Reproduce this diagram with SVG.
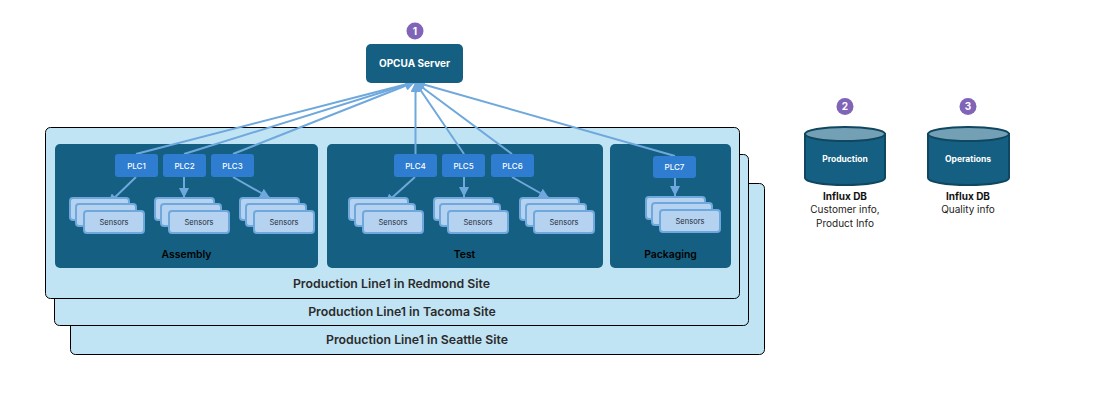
<svg xmlns="http://www.w3.org/2000/svg" width="1111" height="403" viewBox="0 0 1111 403">
<style>
text{font-family:"Inter","Noto Sans","Liberation Sans",sans-serif;text-anchor:middle}
.site{fill:#c1e4f5;stroke:#000;stroke-width:1}
.sitel{font-size:12.3px;font-weight:600;fill:#2b2b2b}
.panel{fill:#156082}
.panell{font-size:10.4px;font-weight:600;fill:#000}
.plc{fill:#2e7dd1}
.plcl{font-size:8px;font-weight:500;fill:#fff}
.sen{fill:#b5d2f0;stroke:#6fa8dc;stroke-width:2}
.senl{font-size:7.5px;fill:#1f2a36}
.badge{fill:#8064b8}
.badgel{font-size:10px;font-weight:700;fill:#fff}
.conn{stroke:#6fa8dc;stroke-width:2;fill:none}
.up{marker-end:url(#a)}
.dbb{fill:#156082;stroke:#0f4761;stroke-width:2}
.dbt{fill:#73a0b4;stroke:#0f4761;stroke-width:2}
.dbl{font-size:8.5px;font-weight:700;fill:#fff}
.cap{font-size:10px;fill:#222}
.capb{font-size:10px;font-weight:700;fill:#111}
</style>
<defs>
<marker id="a" markerUnits="userSpaceOnUse" markerWidth="11" markerHeight="10" refX="10" refY="5" orient="auto"><path d="M0 0L10 5L0 10z" fill="#6fa8dc"/></marker>
<g id="stack">
<rect class="sen" x="0" y="0" width="59" height="22" rx="3"/>
<rect class="sen" x="6" y="6" width="60" height="22" rx="3"/>
<rect class="sen" x="14" y="13" width="60" height="22" rx="3"/>
<text class="senl" x="44" y="27">Sensors</text>
</g>
</defs>
<g id="site-seattle"><rect class="site" x="70.5" y="183.5" width="694" height="171" rx="5"/><text class="sitel" x="417" y="344">Production Line1 in Seattle Site</text></g>
<g id="site-tacoma"><rect class="site" x="54.5" y="154.5" width="694" height="171" rx="5"/><text class="sitel" x="402" y="316">Production Line1 in Tacoma Site</text></g>
<g id="site-redmond"><rect class="site" x="45.5" y="127.5" width="694" height="171" rx="5"/><text class="sitel" x="391.500" y="288">Production Line1 in Redmond Site</text></g>
<g id="assembly"><rect class="panel" x="55" y="144" width="263" height="124" rx="5"/><text class="panell" x="186.500" y="258">Assembly</text></g>
<g id="test"><rect class="panel" x="327" y="144" width="276" height="124" rx="5"/><text class="panell" x="464.500" y="258">Test</text></g>
<g id="packaging"><rect class="panel" x="610" y="144" width="121" height="124" rx="5"/><text class="panell" x="670.500" y="258">Packaging</text></g>
<g id="connectors">
<path class="conn up" d="M136 154L415 82"/>
<path class="conn up" d="M184 154L415 82"/>
<path class="conn up" d="M233 154L415 82"/>
<path class="conn up" d="M415.500 154V82"/>
<path class="conn up" d="M464 154L415 82"/>
<path class="conn up" d="M512 154L415 82"/>
<path class="conn up" d="M675 156L415 82"/>
<path class="conn up" d="M136 177L108 204"/>
<path class="conn up" d="M184 177V198"/>
<path class="conn up" d="M233 177L270 198"/>
<path class="conn up" d="M415 177L385 204"/>
<path class="conn up" d="M464 177V197"/>
<path class="conn up" d="M512 177L549 198"/>
<path class="conn up" d="M675 178V196"/>
</g>
<g id="opcua"><rect class="panel" x="366" y="44" width="97" height="39" rx="5"/><text x="414.500" y="67" style="font-size:10px;font-weight:700;fill:#fff">OPCUA Server</text></g>
<g id="badge1"><circle class="badge" cx="415" cy="31" r="8.500"/><text class="badgel" x="415" y="34.500">1</text></g>
<g id="plc1"><rect class="plc" x="115" y="154" width="43" height="23" rx="3"/><text class="plcl" x="136.500" y="169">PLC1</text></g>
<g id="plc2"><rect class="plc" x="163" y="154" width="43" height="23" rx="3"/><text class="plcl" x="184.500" y="169">PLC2</text></g>
<g id="plc3"><rect class="plc" x="211" y="154" width="43" height="23" rx="3"/><text class="plcl" x="232.500" y="169">PLC3</text></g>
<g id="plc4"><rect class="plc" x="394" y="154" width="43" height="23" rx="3"/><text class="plcl" x="415.500" y="169">PLC4</text></g>
<g id="plc5"><rect class="plc" x="442" y="154" width="43" height="23" rx="3"/><text class="plcl" x="463.500" y="169">PLC5</text></g>
<g id="plc6"><rect class="plc" x="491" y="154" width="43" height="23" rx="3"/><text class="plcl" x="512.500" y="169">PLC6</text></g>
<g id="plc7"><rect class="plc" x="653" y="156" width="43" height="22" rx="3"/><text class="plcl" x="674.500" y="170">PLC7</text></g>
<use id="sensors1" href="#stack" x="70" y="198"/>
<use id="sensors2" href="#stack" x="155" y="198"/>
<use id="sensors3" href="#stack" x="240" y="198"/>
<use id="sensors4" href="#stack" x="349" y="198"/>
<use id="sensors5" href="#stack" x="434" y="198"/>
<use id="sensors6" href="#stack" x="520" y="198"/>
<use id="sensors7" href="#stack" x="646" y="197"/>
<g id="badge2"><circle class="badge" cx="845" cy="106.500" r="8.500"/><text class="badgel" x="845" y="110">2</text></g>
<g id="badge3"><circle class="badge" cx="968" cy="106.500" r="8.500"/><text class="badgel" x="968" y="110">3</text></g>
<g id="db-production"><path class="dbb" d="M805 134V178C805 182 823 185 845 185S885 182 885 178V134z"/><ellipse class="dbt" cx="845" cy="134" rx="40" ry="7"/><text class="dbl" x="845" y="162">Production</text>
<text class="capb" x="845" y="200">Influx DB</text><text class="cap" x="845" y="213">Customer info,</text><text class="cap" x="845" y="227">Product Info</text></g>
<g id="db-operations"><path class="dbb" d="M928 134V178C928 182 946 185 968 185S1009 182 1009 178V134z"/><ellipse class="dbt" cx="968.500" cy="134" rx="40.500" ry="7"/><text class="dbl" x="968" y="162">Operations</text>
<text class="capb" x="968" y="200">Influx DB</text><text class="cap" x="968" y="213">Quality info</text></g>
</svg>
